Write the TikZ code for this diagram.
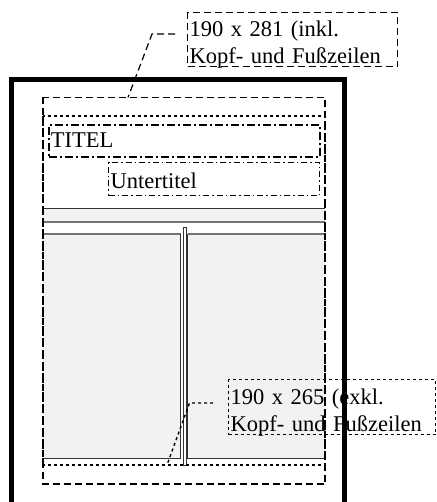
\documentclass[tikz,border=0pt]{standalone}
\usepackage{fontspec}
\setmainfont{Liberation Serif}
\usetikzlibrary{positioning}

\begin{document}
\begin{tikzpicture}[x=1pt, y=-1pt,
    txt/.style={font=\fontsize{22.5}{27}\selectfont, align=left,
                inner ysep=0pt, inner xsep=2pt, anchor=north west},
    lblbox/.style={txt, draw, text height=24pt, text depth=30pt},
    satz/.style={fill=black!5},
    dunkel/.style={draw=black!80, line width=1pt},
    hell/.style={draw=black!55, line width=1.3pt},
    inkl/.style={line width=1.2pt, dash pattern=on 7pt off 4pt},
    exkl/.style={line width=1.4pt, dash pattern=on 3pt off 3pt},
    titelrand/.style={line width=1.8pt, dash pattern=on 8pt off 3pt on 2pt off 3pt},
    untertitelrand/.style={line width=1.1pt, dash pattern=on 6pt off 3pt on 1.5pt off 3pt},
    seite/.style={line width=5pt}
  ]
  \useasboundingbox (0,0) rectangle (436,502);
  \clip (0,0) rectangle (436,502);

  % Kopfbalken und Spalten
  \fill[satz] (43,209) rectangle (325,222);
  \draw[dunkel] (43,209) -- (325,209);
  \draw[hell] (43,222) -- (325,222);
  \fill[satz] (43,234) rectangle (180.5,458);
  \fill[satz] (187.5,234) rectangle (325,458);
  \draw[hell] (43,234) -- (180.5,234) (187.5,234) -- (325,234);
  \draw[dunkel] (43,458) -- (180.5,458) -- (180.5,234)
                (187.5,234) -- (187.5,458) -- (325,458);
  \draw[dunkel, fill=white] (183,228) rectangle (186.5,465);

  % Titel
  \node[txt, draw, titelrand, text width=267pt, text height=23pt, text depth=9pt]
    (titel) at (48,124) {TITEL};
  \node[txt, draw, untertitelrand, text width=207pt, text height=25.5pt, text depth=7.5pt]
    (untertitel) at (108,162) {Untertitel};

  % Satzspiegel
  \draw[inkl] (43,97.5) rectangle (325,484);
  \draw[exkl] (43,116) rectangle (325,465);

  % Beschriftungen
  \node[lblbox, inkl, text width=206pt] (inkltxt) at (187,12)
    {190 x 281 (inkl.\\Kopf- und Fußzeilen};
  \node[lblbox, exkl, text width=203pt, text height=25pt] (exkltxt) at (228,379)
    {190 x 265 (exkl.\\Kopf- und Fußzeilen};
  \coordinate (inklende) at (175,34);
  \coordinate (inklfuss) at (128,97.5);
  \coordinate (exklende) at (213,403);
  \coordinate (exklfuss) at (167,465);
  \draw[inkl] (inklende) -- (152,34) -- (inklfuss);
  \draw[exkl] (exklende) -- (189.5,403) -- (exklfuss);

  % Seite
  \draw[seite] (11,520) -- (11,79.5) -- (344,79.5) -- (344,520);
\end{tikzpicture}
\end{document}
